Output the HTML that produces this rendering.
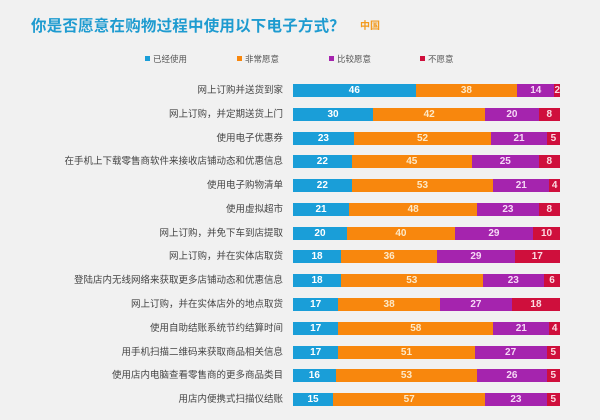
<!DOCTYPE html>
<html>
<head>
<meta charset="utf-8">
<style>
  html,body{margin:0;padding:0;}
  body{width:600px;height:420px;background:#f1f1f1;position:relative;overflow:hidden;
       font-family:"Liberation Sans","Noto Sans CJK SC",sans-serif;}
  .title{position:absolute;left:31px;top:15px;font-size:15.5px;font-weight:bold;color:#1e9bd0;line-height:20px;white-space:nowrap;letter-spacing:0.2px;font-family:"Noto Sans CJK SC",sans-serif;}
  .cn{position:absolute;left:360px;top:20px;font-size:10px;font-weight:bold;color:#f39a1d;line-height:14px;}
  .leg{position:absolute;top:53px;font-size:8.5px;color:#555;line-height:12px;white-space:nowrap;}
  .leg i{display:inline-block;width:5px;height:5px;margin-right:3px;vertical-align:1px;}
  .row{position:absolute;left:0;width:600px;height:13px;}
  .lab{position:absolute;right:317px;top:0;font-size:9.5px;line-height:13px;color:#444;white-space:nowrap;}
  .bar{position:absolute;left:293px;width:267px;top:0;height:13px;display:flex;}
  .bar div{flex-basis:0;height:13px;color:#fff;font-weight:bold;font-size:10px;line-height:13px;text-align:center;overflow:visible;white-space:nowrap;}
  .b{background:#1a9ed8;}
  .o{background:#f8870d;color:#fde9c8 !important;}
  .p{background:#a524ae;color:#f6d8f6 !important;}
  .r{background:#cf0f3c;color:#fbdbe2 !important;}
</style>
</head>
<body>
<div class="title">你是否愿意在购物过程中使用以下电子方式？</div>
<div class="cn">中国</div>

<div class="leg" style="left:145px"><i style="background:#1a9ed8"></i>已经使用</div>
<div class="leg" style="left:237px"><i style="background:#f8870d"></i>非常愿意</div>
<div class="leg" style="left:329px"><i style="background:#a524ae"></i>比较愿意</div>
<div class="leg" style="left:420px"><i style="background:#cf0f3c"></i>不愿意</div>

<div class="row" style="top:84px"><div class="lab">网上订购并送货到家</div><div class="bar"><div class="b" style="flex-grow:46">46</div><div class="o" style="flex-grow:38">38</div><div class="p" style="flex-grow:14">14</div><div class="r" style="flex-grow:2">2</div></div></div>
<div class="row" style="top:107.8px"><div class="lab">网上订购，并定期送货上门</div><div class="bar"><div class="b" style="flex-grow:30">30</div><div class="o" style="flex-grow:42">42</div><div class="p" style="flex-grow:20">20</div><div class="r" style="flex-grow:8">8</div></div></div>
<div class="row" style="top:131.5px"><div class="lab">使用电子优惠券</div><div class="bar"><div class="b" style="flex-grow:23">23</div><div class="o" style="flex-grow:52">52</div><div class="p" style="flex-grow:21">21</div><div class="r" style="flex-grow:5">5</div></div></div>
<div class="row" style="top:155.3px"><div class="lab">在手机上下载零售商软件来接收店铺动态和优惠信息</div><div class="bar"><div class="b" style="flex-grow:22">22</div><div class="o" style="flex-grow:45">45</div><div class="p" style="flex-grow:25">25</div><div class="r" style="flex-grow:8">8</div></div></div>
<div class="row" style="top:179.1px"><div class="lab">使用电子购物清单</div><div class="bar"><div class="b" style="flex-grow:22">22</div><div class="o" style="flex-grow:53">53</div><div class="p" style="flex-grow:21">21</div><div class="r" style="flex-grow:4">4</div></div></div>
<div class="row" style="top:202.9px"><div class="lab">使用虚拟超市</div><div class="bar"><div class="b" style="flex-grow:21">21</div><div class="o" style="flex-grow:48">48</div><div class="p" style="flex-grow:23">23</div><div class="r" style="flex-grow:8">8</div></div></div>
<div class="row" style="top:226.6px"><div class="lab">网上订购，并免下车到店提取</div><div class="bar"><div class="b" style="flex-grow:20">20</div><div class="o" style="flex-grow:40">40</div><div class="p" style="flex-grow:29">29</div><div class="r" style="flex-grow:10">10</div></div></div>
<div class="row" style="top:250.4px"><div class="lab">网上订购，并在实体店取货</div><div class="bar"><div class="b" style="flex-grow:18">18</div><div class="o" style="flex-grow:36">36</div><div class="p" style="flex-grow:29">29</div><div class="r" style="flex-grow:17">17</div></div></div>
<div class="row" style="top:274.2px"><div class="lab">登陆店内无线网络来获取更多店铺动态和优惠信息</div><div class="bar"><div class="b" style="flex-grow:18">18</div><div class="o" style="flex-grow:53">53</div><div class="p" style="flex-grow:23">23</div><div class="r" style="flex-grow:6">6</div></div></div>
<div class="row" style="top:297.9px"><div class="lab">网上订购，并在实体店外的地点取货</div><div class="bar"><div class="b" style="flex-grow:17">17</div><div class="o" style="flex-grow:38">38</div><div class="p" style="flex-grow:27">27</div><div class="r" style="flex-grow:18">18</div></div></div>
<div class="row" style="top:321.7px"><div class="lab">使用自助结账系统节约结算时间</div><div class="bar"><div class="b" style="flex-grow:17">17</div><div class="o" style="flex-grow:58">58</div><div class="p" style="flex-grow:21">21</div><div class="r" style="flex-grow:4">4</div></div></div>
<div class="row" style="top:345.5px"><div class="lab">用手机扫描二维码来获取商品相关信息</div><div class="bar"><div class="b" style="flex-grow:17">17</div><div class="o" style="flex-grow:51">51</div><div class="p" style="flex-grow:27">27</div><div class="r" style="flex-grow:5">5</div></div></div>
<div class="row" style="top:369.2px"><div class="lab">使用店内电脑查看零售商的更多商品类目</div><div class="bar"><div class="b" style="flex-grow:16">16</div><div class="o" style="flex-grow:53">53</div><div class="p" style="flex-grow:26">26</div><div class="r" style="flex-grow:5">5</div></div></div>
<div class="row" style="top:393px"><div class="lab">用店内便携式扫描仪结账</div><div class="bar"><div class="b" style="flex-grow:15">15</div><div class="o" style="flex-grow:57">57</div><div class="p" style="flex-grow:23">23</div><div class="r" style="flex-grow:5">5</div></div></div>
</body>
</html>
